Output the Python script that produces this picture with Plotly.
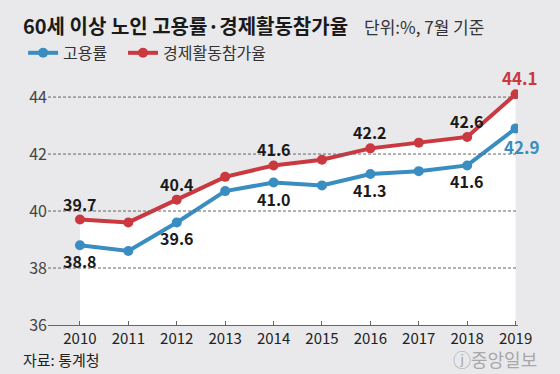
import plotly.graph_objects as go

years = [2010, 2011, 2012, 2013, 2014, 2015, 2016, 2017, 2018, 2019]
employment = [38.8, 38.6, 39.6, 40.7, 41.0, 40.9, 41.3, 41.4, 41.6, 42.9]
participation = [39.7, 39.6, 40.4, 41.2, 41.6, 41.8, 42.2, 42.4, 42.6, 44.1]
y_ticks = [36, 38, 40, 42, 44]
labelled_years = [2010, 2012, 2014, 2016, 2018]

BG = "#e9e9eb"
RED = "#c9393f"
BLUE = "#3a8dc1"
FONT = "Noto Sans CJK KR"
NB = "\u00a0"

fig = go.Figure()

# white area under the participation line
fig.add_trace(go.Scatter(x=years, y=participation, mode="none", fill="tozeroy",
                         fillcolor="white", showlegend=False, hoverinfo="skip"))

fig.add_trace(go.Scatter(x=years, y=employment, mode="lines+markers", name="고용률" + NB * 3,
                         line=dict(color=BLUE, width=4), marker=dict(size=10, color=BLUE)))
fig.add_trace(go.Scatter(x=years, y=participation, mode="lines+markers", name="경제활동참가율",
                         line=dict(color=RED, width=4), marker=dict(size=10, color=RED)))

# value labels
for i, yr in enumerate(years):
    if yr in labelled_years:
        fig.add_annotation(x=yr, y=participation[i], text=f"<b>{participation[i]:.1f}</b>",
                           showarrow=False, yshift=16,
                           font=dict(size=16, color="#1a1a1a", family=FONT))
        fig.add_annotation(x=yr, y=employment[i], text=f"<b>{employment[i]:.1f}</b>",
                           showarrow=False, yshift=-16,
                           font=dict(size=16, color="#1a1a1a", family=FONT))
fig.add_annotation(x=years[-1], y=participation[-1], text=f"<b>{participation[-1]:.1f}</b>",
                   showarrow=False, yshift=17, xshift=4,
                   font=dict(size=17, color=RED, family=FONT))
fig.add_annotation(x=years[-1], y=employment[-1], text=f"<b>{employment[-1]:.1f}</b>",
                   showarrow=False, yshift=-18, xshift=6,
                   font=dict(size=17, color=BLUE, family=FONT))

# dashed gridlines drawn above the white fill
for t in y_ticks[1:]:
    fig.add_shape(type="line", xref="paper", x0=0, x1=1, yref="y", y0=t, y1=t,
                  line=dict(color="#666666", width=1, dash="3px,2px"), layer="above")

# title, subtitle, source, logo
fig.add_annotation(xref="paper", yref="paper", x=-0.057, y=1.173, xanchor="left", yanchor="middle",
                   text="<b>60세 이상 노인 고용률·경제활동참가율</b>", showarrow=False,
                   font=dict(size=20, color="#1a1a1a", family=FONT))
fig.add_annotation(xref="paper", yref="paper", x=0.668, y=1.17, xanchor="left", yanchor="middle",
                   text="단위:%, 7월 기준", showarrow=False,
                   font=dict(size=17, color="#333333", family=FONT))
fig.add_annotation(xref="paper", yref="paper", x=-0.057, y=-0.137, xanchor="left", yanchor="middle",
                   text="자료: 통계청", showarrow=False,
                   font=dict(size=15, color="#222222", family=FONT))
fig.add_annotation(xref="paper", yref="paper", x=1.045, y=-0.133, xanchor="right", yanchor="middle",
                   text="ⓙ중앙일보", showarrow=False,
                   font=dict(size=18, color="#a8a8a8", family=FONT))

fig.update_layout(
    width=560, height=374,
    margin=dict(l=48, r=42, t=70, b=49, autoexpand=False),
    paper_bgcolor=BG, plot_bgcolor=BG,
    font=dict(family=FONT, color="#333333"),
    showlegend=True,
    legend=dict(orientation="h", x=-0.053, y=1.067,
                xanchor="left", yanchor="middle",
                bgcolor="rgba(0,0,0,0)", font=dict(size=16, color="#333333", family=FONT),
                itemwidth=30, tracegroupgap=0),
    xaxis=dict(range=[2009.34, 2019.05], tickmode="array", tickvals=years,
               ticktext=[str(y) for y in years], showgrid=False, zeroline=False,
               showline=True, linecolor="#666666", linewidth=1,
               ticks="inside", ticklen=4, tickcolor="#666666",
               tickfont=dict(size=15, color="#222222", family=FONT)),
    yaxis=dict(range=[36, 44.95], tickmode="array", tickvals=y_ticks,
               showgrid=False, zeroline=False, showline=False,
               ticks="", tickfont=dict(size=16, color="#444444", family=FONT)),
)

fig.write_html("out.html", config={"displayModeBar": False},
               post_script="document.body.style.margin='0';")
